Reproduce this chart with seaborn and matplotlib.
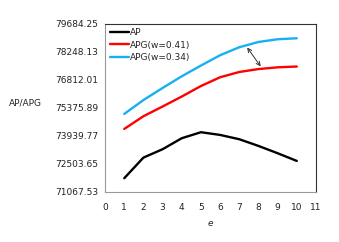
import matplotlib
matplotlib.use('agg')
import matplotlib.pyplot as plt
import seaborn as sns
import pandas as pd

# data
e = [1, 2, 3, 4, 5, 6, 7, 8, 9, 10]
ap = [71770, 72827, 73258, 73822, 74130, 73991, 73770, 73427, 73052, 72657]
apg_041 = [74299, 74950, 75450, 75960, 76500, 76950, 77220, 77370, 77460, 77500]
apg_034 = [75068, 75780, 76400, 77000, 77550, 78080, 78490, 78760, 78900, 78950]
series = ['AP', 'APG(w=0.41)', 'APG(w=0.34)']
colors = ['#000000', '#ff0000', '#18b0f0']
yticks = [71067.53, 72503.65, 73939.77, 75375.89, 76812.01, 78248.13, 79684.25]
xticks = list(range(0, 12))

df = pd.concat([
	pd.DataFrame({'e': e, 'v': ap, 's': series[0]}),
	pd.DataFrame({'e': e, 'v': apg_041, 's': series[1]}),
	pd.DataFrame({'e': e, 'v': apg_034, 's': series[2]}),
])

sns.set_style('white')
plt.rcParams['font.family'] = ['DejaVu Sans']

fig = plt.figure(figsize=(3.39, 2.42), dpi=100)
ax = fig.add_axes([0.31, 0.207, 0.622, 0.694])
sns.lineplot(data=df, x='e', y='v', hue='s', hue_order=series,
	palette=colors, linewidth=1.7, ax=ax)

ax.set_xlim(0, 11)
ax.set_ylim(yticks[0], yticks[-1])
ax.set_xticks(xticks)
ax.set_yticks(yticks)
ax.set_yticklabels(['%.2f' % t for t in yticks])
ax.tick_params(axis='both', direction='in', length=3, width=0.6, color='#888888',
	labelsize=6.5, pad=5, labelcolor='#222222')
ax.tick_params(axis='x', pad=8)
for side in ['left', 'bottom']:
	ax.spines[side].set_color('#999999')
for side in ['top', 'right']:
	ax.spines[side].set_color('#333333')
for sp in ax.spines.values():
	sp.set_linewidth(0.8)

ax.set_xlabel('e', fontsize=6.5, style='italic', labelpad=5)
ax.set_ylabel('AP/APG', fontsize=6.5, rotation=0, va='center', ha='left')
ax.yaxis.set_label_coords(-0.455, 0.53)

ax.annotate('', xy=(7.33, 78590), xytext=(8.2, 77390),
	arrowprops=dict(arrowstyle='<->', color='#333333', lw=0.7, mutation_scale=7))

leg = ax.legend(loc='upper left', frameon=False, fontsize=6.5, handlelength=2.2,
	handletextpad=0.1, labelspacing=0.35, borderaxespad=0.3, borderpad=0.2)

fig.savefig('out.png', dpi=100)
